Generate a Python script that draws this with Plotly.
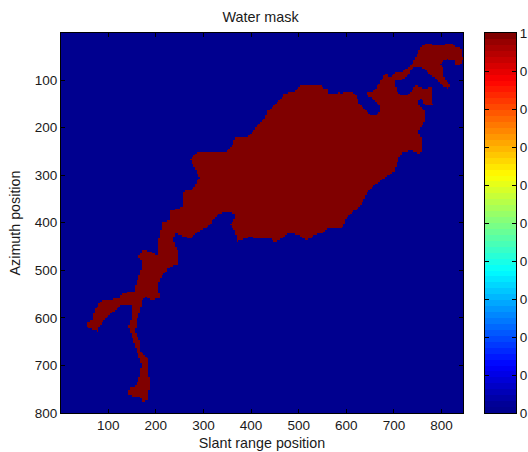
import numpy as np
import plotly.graph_objects as go

# Shoreline of the water body (slant range, azimuth)
shore_slant = [430,434,451,472,491,503,549,551,564,564,581,585,587,612,623,625,644,654,665,673,667,654,642,642,656,667,684,692,707,719,738,744,759,776,782,807,818,828,843,845,839,830,828,811,797,803,805,820,814,805,790,780,761,746,734,723,702,707,717,730,744,749,761,778,780,782,765,759,751,753,765,765,751,759,759,751,738,719,709,702,681,661,646,629,602,591,591,562,552,535,518,499,476,466,451,440,419,398,371,367,357,367,367,357,340,325,321,308,287,273,258,241,237,248,248,225,208,206,210,193,178,170,168,160,158,168,168,183,185,189,185,174,168,143,145,160,168,170,162,153,143,151,149,126,116,101,84,78,57,57,67,74,88,122,132,155,168,172,164,174,204,208,214,231,231,258,260,277,292,279,273,290,350,363,367,394,413]
shore_azimuth = [178,166,151,128,125,113,111,117,119,128,128,125,128,125,134,147,166,176,174,161,149,138,130,125,125,111,85,94,83,83,68,56,28,22,28,26,22,28,35,58,71,71,60,56,66,73,94,113,117,113,98,92,75,71,83,98,102,125,134,132,115,111,119,115,140,153,153,140,142,151,163,187,208,225,252,254,248,252,267,292,305,320,334,366,387,411,413,411,421,425,438,425,423,432,440,432,434,430,440,419,404,389,383,377,377,389,394,411,421,434,430,421,436,463,487,497,520,541,558,563,556,567,584,605,630,651,672,685,721,725,770,778,767,763,746,742,715,700,675,647,618,598,573,575,584,594,615,628,620,609,605,580,563,560,548,544,503,484,472,457,468,430,400,394,375,366,334,330,305,277,265,250,250,235,218,220,197]

slant_cells = np.arange(1, 846, 3.5)
azimuth_cells = np.arange(1, 801, 3.5)
x_ticks = [100, 200, 300, 400, 500, 600, 700, 800]
y_ticks = [100, 200, 300, 400, 500, 600, 700, 800]
bar_ticks = [0, 0.1, 0.2, 0.3, 0.4, 0.5, 0.6, 0.7, 0.8, 0.9, 1]
bar_levels = np.arange(64) / 63


def jet(v):
    r = np.clip(1.5 - abs(4 * v - 3), 0, 1)
    g = np.clip(1.5 - abs(4 * v - 2), 0, 1)
    b = np.clip(1.5 - abs(4 * v - 1), 0, 1)
    return f"rgb({int(r*255+.5)},{int(g*255+.5)},{int(b*255+.5)})"


scale = []
for i in range(64):
    scale += [[i / 64, jet((i + 0.5) / 64)], [(i + 1) / 64, jet((i + 0.5) / 64)]]
scale[0][1] = scale[1][1] = "rgb(0,0,143)"
scale[-1][1] = scale[-2][1] = "rgb(128,0,0)"

# Mask: cells that fall inside the shoreline
X, Y = np.meshgrid(slant_cells, azimuth_cells)
px, py = np.array(shore_slant, float), np.array(shore_azimuth, float)
inside = np.zeros(X.shape, bool)
for i in range(len(px)):
    x0, y0, x1, y1 = px[i], py[i], px[i - 1], py[i - 1]
    if y0 == y1:
        continue
    crosses = (y0 > Y) != (y1 > Y)
    inside ^= crosses & (X < (x1 - x0) * (Y - y0) / (y1 - y0) + x0)
mask = inside.astype(int)

FONT = "Liberation Sans, Arial, sans-serif"
TEXT = "#1a1a1a"
fig = go.Figure()
fig.add_trace(go.Heatmap(x=slant_cells, y=azimuth_cells, z=mask, zmin=0, zmax=1,
                         colorscale=scale, showscale=False, hoverinfo="skip",
                         xaxis="x", yaxis="y"))
fig.add_trace(go.Heatmap(x=[0], y=(np.arange(64) + 0.5) / 64, z=[[v] for v in bar_levels],
                         zmin=0, zmax=1, colorscale=scale, showscale=False, hoverinfo="skip",
                         xaxis="x2", yaxis="y2"))

axis_style = dict(showgrid=False, zeroline=False, showline=True, linecolor="black", linewidth=1,
                  mirror="ticks", ticks="inside", ticklen=4, tickcolor="black", tickwidth=1,
                  tickfont=dict(family=FONT, size=13.5, color=TEXT), automargin=False)
L, R, T, B = 60, 12, 33, 39
W = 528 - L - R
fig.update_layout(
    width=528, height=452, autosize=False,
    margin=dict(l=L, r=R, t=T, b=B, pad=0, autoexpand=False),
    paper_bgcolor="white", plot_bgcolor="white",
    font=dict(family=FONT, size=13.5, color=TEXT),
    title=dict(text="Water mask", x=260.5 / 528, xanchor="center", y=1 - 17 / 452, yanchor="middle",
               font=dict(family=FONT, size=14.4, color=TEXT)),
    xaxis=dict(domain=[1 / W, 403 / W], range=[1, 845], tickvals=x_ticks,
               title=dict(text="Slant range position", standoff=5, font=dict(family=FONT, size=14.3, color=TEXT)),
               **axis_style),
    yaxis=dict(domain=[0, 1], range=[800, 1], tickvals=y_ticks,
               title=dict(text="Azimuth position", standoff=10, font=dict(family=FONT, size=14.3, color=TEXT)),
               **axis_style),
    xaxis2=dict(domain=[425 / W, 1], range=[-0.5, 0.5], anchor="y2", showticklabels=False,
                showgrid=False, zeroline=False, showline=True, linecolor="black", linewidth=1,
                mirror=True, ticks=""),
    yaxis2=dict(domain=[0, 1], range=[0, 1], anchor="x2", side="right", tickvals=bar_ticks,
                ticktext=[str(t) for t in bar_ticks], **axis_style),
)
fig.write_html("out.html", config={"displayModeBar": False},
               post_script="document.body.style.margin='0';document.body.style.overflow='hidden';")
